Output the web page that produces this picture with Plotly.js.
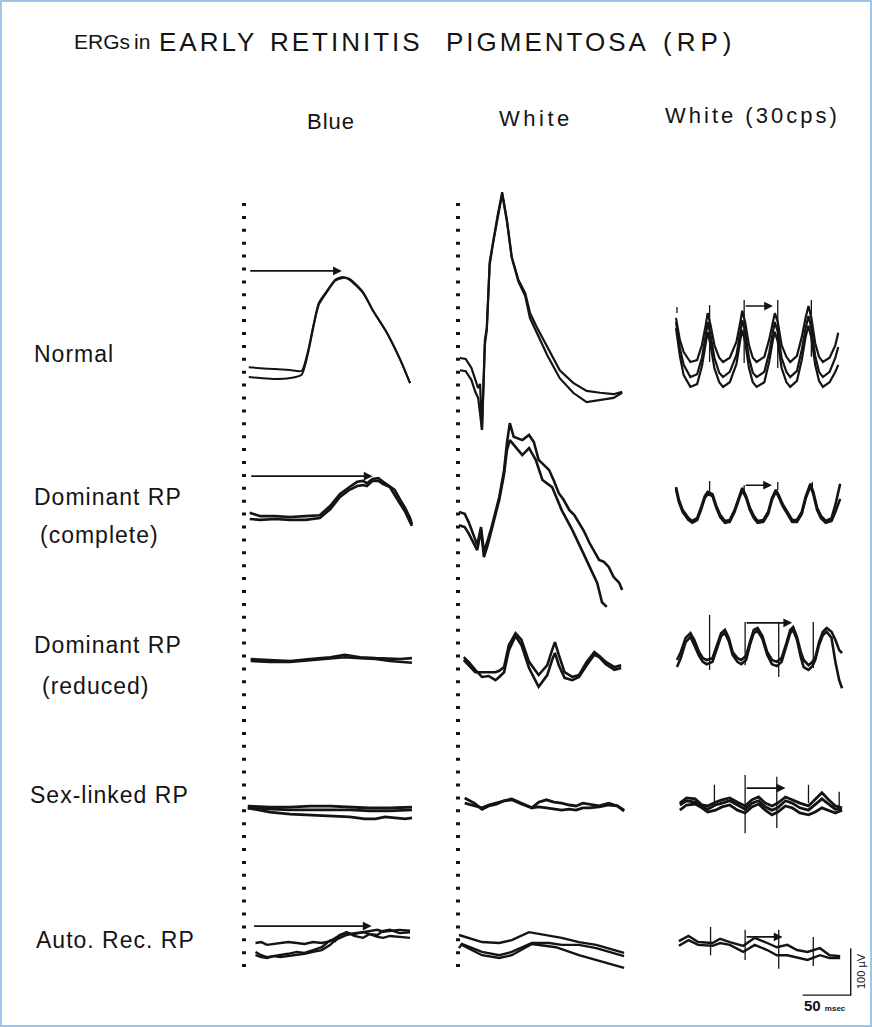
<!DOCTYPE html>
<html><head><meta charset="utf-8">
<script src="https://cdn.plot.ly/plotly-3.0.1.min.js"></script>
<style>html,body{margin:0;padding:0;background:#fff}#chart{width:872px;height:1027px}</style>
</head><body><div id="chart"></div>
<script>
// ---------- DATA (time in ms from stimulus, amplitude in µV) ----------
const columnTitles = ["Blue", "White", "White (30cps)"];
const rowLabels = [["Normal"], ["Dominant RP", "(complete)"], ["Dominant RP", "(reduced)"], ["Sex-linked RP"], ["Auto. Rec. RP"]];
const titleWords = ["ERGs", "in", "EARLY", "RETINITIS", "PIGMENTOSA", "(RP)"];

// Blue stimulus column
const blueNormalT = [6, 18, 33, 49, 61, 68, 73, 79, 88, 96, 104, 111, 125, 135, 150, 164, 174];
const blueNormalA = [8, 6, 4, 2, 0, 45, 94, 145, 172, 194, 200, 194, 166, 130, 81, 23, -26];
const blueNormalB = [-13, -15, -17, -15, -8, 40, 90, 141, 170, 192, 198, 196, 168, 130, 81, 23, -26];

const blueDomcT = [7, 18, 33, 49, 65, 80, 91, 101, 111, 119, 125, 129, 135, 141, 146, 153, 158, 164, 169, 174, 176];
const blueDomcA = [11, 4, 4, 2, 4, 6, 26, 51, 66, 77, 79, 74, 83, 85, 77, 68, 60, 38, 21, 0, -13];
const blueDomcB = [-2, -4, -2, -4, -4, 0, 19, 45, 60, 68, 70, 68, 79, 79, 72, 66, 49, 28, 13, -9, -17];

const blueDomrT = [8, 28, 49, 70, 91, 106, 122, 138, 153, 164, 176];
const blueDomrA = [2, 0, -2, 2, 6, 11, 6, 4, 2, 2, 4];
const blueDomrB = [-2, -4, -4, 0, 4, 6, 4, 2, -2, -4, -6];

const blueSexT = [5, 28, 49, 70, 91, 111, 132, 153, 176];
const blueSexA = [4, 2, 2, 4, 4, 2, 0, 0, 2];
const blueSexB = [0, -2, -4, -4, -4, -4, -6, -6, -4];
const blueSexCT = [5, 28, 49, 70, 91, 111, 127, 138, 148, 158, 169, 176];
const blueSexC = [0, -9, -13, -15, -17, -19, -23, -23, -19, -21, -23, -21];

const blueAutoT = [13, 19, 25, 32, 39, 47, 56, 64, 73, 82, 91, 96, 101, 108, 116, 125, 132, 140, 146, 153, 163, 174];
const blueAutoA = [0, 2, -4, -2, 0, 2, 0, -2, 2, 0, 4, 11, 17, 21, 19, 23, 26, 28, 24, 26, 28, 26];
const blueAutoB = [-19, -26, -30, -28, -26, -23, -19, -21, -15, -9, 6, 4, 17, 23, 15, 11, 19, 13, 11, 15, 13, 11];
const blueAutoC = [-26, -30, -32, -28, -30, -28, -26, -23, -19, -15, -4, 6, 11, 17, 21, 23, 19, 17, 26, 28, 21, 23];

// White stimulus column
const whiteNormalT = [2, 8, 14, 18, 21, 23, 25, 28, 30, 33, 36, 41, 46, 51, 56, 63, 70, 75, 82, 93, 106, 120, 134, 148, 162, 171];
const whiteNormalA = [0, -2, -21, -47, -64, -55, -153, 38, 64, 204, 243, 300, 353, 294, 215, 166, 138, 96, 66, 23, -26, -53, -70, -74, -77, -72];
const whiteNormalB = [-26, -28, -47, -72, -85, -115, -153, 28, 60, 198, 238, 294, 349, 289, 213, 162, 132, 85, 53, 6, -43, -74, -94, -89, -85, -74];

const whiteDomcAT = [1, 7, 11, 16, 20, 24, 27, 31, 35, 43, 48, 51, 54, 58, 67, 74, 79, 84, 90, 95, 100, 105, 110, 116, 121, 126, 131, 137, 142, 147, 152, 157, 162, 168, 171];
const whiteDomcA = [0, -4, -21, -49, -70, -32, -85, -60, -32, 32, 89, 147, 189, 160, 153, 164, 149, 111, 100, 89, 66, 40, 26, 4, -6, -23, -40, -66, -85, -102, -106, -117, -138, -151, -166];
const whiteDomcBT = [1, 7, 11, 16, 20, 24, 27, 31, 35, 43, 48, 51, 54, 60, 67, 74, 81, 88, 98, 108, 119, 129, 137, 145, 150, 155];
const whiteDomcB = [-28, -32, -45, -64, -81, -38, -96, -70, -38, 26, 81, 132, 153, 138, 121, 136, 111, 68, 53, 4, -38, -81, -117, -151, -192, -202];

const whiteDomrT = [6, 11, 18, 25, 32, 39, 43, 48, 53, 60, 66, 74, 84, 93, 98, 101, 105, 111, 119, 126, 134, 142, 147, 154, 163, 170];
const whiteDomrA = [6, -4, -21, -36, -34, -43, -36, -26, 21, 51, 32, -17, -57, -32, 0, 15, -11, -38, -43, -36, -11, 11, 6, -9, -21, -17];
const whiteDomrB = [0, -11, -26, -26, -26, -26, -23, -15, 32, 57, 43, -4, -32, -11, 21, 38, 11, -26, -36, -32, -4, 17, 9, -4, -15, -11];

const whiteSexT = [7, 17, 25, 32, 40, 48, 56, 66, 77, 84, 92, 100, 108, 116, 123, 130, 137, 147, 157, 166, 173];
const whiteSexA = [15, 4, -9, -2, 2, 9, 13, 4, -6, 6, 11, 6, 4, 0, -2, 4, 2, -2, 4, -2, -13];
const whiteSexB = [4, -2, -6, 0, 4, 9, 11, 2, -6, -4, -6, -9, -11, -9, -11, -6, -6, -4, 0, -2, -11];

const whiteAutoAT = [1, 25, 43, 56, 74, 92, 108, 126, 144, 173];
const whiteAutoA = [17, 2, 0, 6, 23, 17, 11, 2, -4, -21];
const whiteAutoBT = [1, 4, 25, 43, 56, 77, 95, 108, 126, 144, 173];
const whiteAutoB = [-11, -2, -19, -26, -19, 0, 0, -4, -4, -11, -28];
const whiteAutoCT = [4, 25, 43, 56, 77, 102, 126, 144, 173];
const whiteAutoC = [-4, -26, -32, -26, -2, -9, -26, -36, -53];

// White flicker (30 cps) column
const cpsNormalT = [0, 4, 8, 15, 22, 27, 31, 33, 36, 40, 45, 49, 56, 63, 67, 69, 72, 76, 80, 84, 92, 97, 101, 103, 106, 110, 115, 119, 126, 131, 135, 138, 141, 145, 149, 153, 160, 166, 169];
const cpsNormalA = [94, 47, 21, 0, 4, 36, 79, 104, 79, 36, 9, 0, 9, 43, 85, 109, 85, 36, 9, 0, 11, 47, 85, 104, 85, 36, 11, 0, 13, 53, 94, 119, 94, 40, 11, 0, 9, 36, 62];
const cpsNormalB = [85, 30, -6, -32, -26, 9, 57, 85, 57, 9, -23, -32, -21, 15, 64, 89, 64, 9, -23, -32, -21, 19, 64, 85, 64, 9, -21, -32, -19, 26, 72, 98, 72, 13, -21, -32, -21, 9, 32];
const cpsNormalC = [72, 13, -28, -53, -47, -9, 40, 64, 36, -13, -43, -53, -43, -4, 47, 68, 43, -13, -43, -53, -43, 0, 47, 64, 43, -13, -43, -53, -40, 4, 53, 77, 51, -6, -40, -53, -43, -21, -6];
const cpsNormalMarkT = [1, 35, 71, 106, 141];
const cpsNormalMarkTop = [117, 121, 132, 132, 132];
const cpsNormalMarkBot = [104, 0, -2, -13, 11];

const cpsDomcT = [0, 3, 7, 13, 17, 22, 26, 30, 33, 38, 42, 46, 51, 56, 61, 66, 69, 73, 77, 81, 85, 91, 96, 100, 104, 107, 111, 116, 121, 126, 131, 135, 140, 143, 147, 151, 156, 162, 166, 171];
const cpsDomcA = [70, 43, 21, 4, -2, 4, 26, 51, 60, 55, 30, 11, -2, 0, 21, 53, 68, 51, 26, 9, -2, 0, 17, 47, 64, 53, 34, 17, 0, 0, 17, 49, 77, 60, 26, 9, -2, 4, 32, 77];
const cpsDomcB = [66, 38, 17, 0, -6, 0, 21, 47, 55, 51, 26, 6, -6, -4, 17, 49, 64, 47, 21, 4, -6, -4, 13, 43, 60, 49, 30, 13, -4, -4, 13, 45, 72, 55, 21, 4, -6, -2, 17, 45];
const cpsDomcMarkT = [35, 71, 106, 142];
const cpsDomcMarkTop = [83, 74, 81, 81];
const cpsDomcMarkBot = [57, 53, 64, 70];

const cpsDomrT = [1, 5, 10, 15, 19, 24, 28, 32, 38, 43, 47, 51, 55, 59, 64, 68, 73, 77, 81, 85, 90, 95, 100, 105, 110, 115, 119, 122, 126, 130, 133, 138, 142, 145, 149, 153, 157, 162, 166, 170, 173];
const cpsDomrA = [0, 17, 47, 57, 43, 17, 4, 0, 4, 32, 57, 64, 47, 17, 4, 0, 9, 38, 64, 68, 51, 17, 0, -4, 4, 36, 64, 70, 49, 17, 0, -11, -4, 4, 38, 60, 68, 60, 43, 21, 15];
const cpsDomrB = [-15, 4, 38, 49, 32, 9, -4, -9, -4, 26, 51, 57, 40, 11, -4, -9, 0, 32, 57, 62, 45, 11, -9, -13, -4, 30, 57, 64, 43, 6, -15, -21, -13, 0, 32, 53, 60, 47, -4, -43, -60];
const cpsDomrMarkT = [35, 72, 107, 143];
const cpsDomrMarkTop = [96, 81, 79, 81];
const cpsDomrMarkBot = [-21, -11, -36, -17];

const cpsSexT = [4, 11, 20, 27, 33, 41, 48, 56, 64, 72, 79, 86, 93, 100, 106, 114, 121, 129, 138, 145, 152, 159, 166, 173];
const cpsSexA = [4, 15, 13, 0, -2, 6, 11, 15, 6, -2, 11, 17, 4, -2, 4, 17, 11, 4, -2, 11, 26, 11, -2, -6];
const cpsSexB = [-11, 0, 2, -6, -15, -11, -4, 0, -11, -17, -4, 2, -11, -21, -15, -2, -6, -17, -21, -15, -6, -11, -17, -11];
const cpsSexC = [0, 9, 6, -4, -9, 0, 4, 9, 0, -9, 4, 9, -4, -11, -6, 9, 4, -6, -11, 2, 13, 2, -9, -9];
const cpsSexMarkT = [40, 72, 105, 138, 170];
const cpsSexMarkTop = [43, 64, 60, 43, 28];
const cpsSexMarkBot = [4, -60, -49, 4, -4];

const cpsAutoT = [3, 13, 23, 38, 46, 56, 70, 82, 95, 105, 116, 126, 137, 150, 160, 171];
const cpsAutoA = [4, 15, 2, 0, 9, 2, -6, 11, 0, -9, -4, -15, -19, -11, -26, -28];
const cpsAutoB = [-6, 6, -4, -6, 0, -4, -19, -4, -15, -26, -26, -30, -36, -26, -32, -32];
const cpsAutoMarkT = [36, 72, 107, 143];
const cpsAutoMarkTop = [34, 28, 28, 13];
const cpsAutoMarkBot = [-26, -36, -55, -49];

// Latency / period arrows: [start ms, end ms, level µV]
const arrowBlueNormal = [6, 103, 213];
const arrowBlueDomc = [7, 135, 89];
const arrowBlueAuto = [10, 134, 36];
const arrowCpsNormal = [71, 101, 119];
const arrowCpsDomc = [71, 100, 74];
const arrowCpsDomr = [72, 121, 79];
const arrowCpsSex = [72, 114, 36];
const arrowCpsAuto = [72, 111, 13];

// Calibration
const calibMs = 50;
const calibUv = 100;

// ---------- LAYOUT GEOMETRY ----------
const W = 872, H = 1027;
const PX_PER_MS = 0.96, PX_PER_UV = 0.47;
const colGeom = {blue: {x0: 243, left: 236, right: 428}, white: {x0: 458, left: 448, right: 640}, cps: {x0: 676, left: 664, right: 868}};
const rowGeom = {normal: {top: 185, bottom: 440}, domc: {top: 410, bottom: 612}, domr: {top: 600, bottom: 705}, sex: {top: 760, bottom: 845}, auto: {top: 900, bottom: 1010}};
const baseY = {
  blue: {normal: 371, domc: 518, domr: 660, sex: 808, auto: 943},
  white: {normal: 358, domc: 512, domr: 660, sex: 805, auto: 943},
  cps: {normal: 362, domc: 520, domr: 660, sex: 805, auto: 943}
};
const colKeys = ["blue", "white", "cps"];
const rowKeys = ["normal", "domc", "domr", "sex", "auto"];

const panelSeries = {
  "blue.normal": [[blueNormalT, blueNormalA], [blueNormalT, blueNormalB]],
  "blue.domc": [[blueDomcT, blueDomcA], [blueDomcT, blueDomcB]],
  "blue.domr": [[blueDomrT, blueDomrA], [blueDomrT, blueDomrB]],
  "blue.sex": [[blueSexT, blueSexA], [blueSexT, blueSexB], [blueSexCT, blueSexC]],
  "blue.auto": [[blueAutoT, blueAutoA], [blueAutoT, blueAutoB], [blueAutoT, blueAutoC]],
  "white.normal": [[whiteNormalT, whiteNormalA], [whiteNormalT, whiteNormalB]],
  "white.domc": [[whiteDomcAT, whiteDomcA], [whiteDomcBT, whiteDomcB]],
  "white.domr": [[whiteDomrT, whiteDomrA], [whiteDomrT, whiteDomrB]],
  "white.sex": [[whiteSexT, whiteSexA], [whiteSexT, whiteSexB]],
  "white.auto": [[whiteAutoAT, whiteAutoA], [whiteAutoBT, whiteAutoB], [whiteAutoCT, whiteAutoC]],
  "cps.normal": [[cpsNormalT, cpsNormalA], [cpsNormalT, cpsNormalB], [cpsNormalT, cpsNormalC]],
  "cps.domc": [[cpsDomcT, cpsDomcA], [cpsDomcT, cpsDomcB]],
  "cps.domr": [[cpsDomrT, cpsDomrA], [cpsDomrT, cpsDomrB]],
  "cps.sex": [[cpsSexT, cpsSexA], [cpsSexT, cpsSexB], [cpsSexT, cpsSexC]],
  "cps.auto": [[cpsAutoT, cpsAutoA], [cpsAutoT, cpsAutoB]]
};
const panelMarks = {
  "cps.normal": [cpsNormalMarkT, cpsNormalMarkTop, cpsNormalMarkBot],
  "cps.domc": [cpsDomcMarkT, cpsDomcMarkTop, cpsDomcMarkBot],
  "cps.domr": [cpsDomrMarkT, cpsDomrMarkTop, cpsDomrMarkBot],
  "cps.sex": [cpsSexMarkT, cpsSexMarkTop, cpsSexMarkBot],
  "cps.auto": [cpsAutoMarkT, cpsAutoMarkTop, cpsAutoMarkBot]
};
const panelArrows = {
  "blue.normal": arrowBlueNormal, "blue.domc": arrowBlueDomc, "blue.auto": arrowBlueAuto,
  "cps.normal": arrowCpsNormal, "cps.domc": arrowCpsDomc, "cps.domr": arrowCpsDomr,
  "cps.sex": arrowCpsSex, "cps.auto": arrowCpsAuto
};
const lineWidthByRow = {normal: 2.2, domc: 2.6, domr: 2.6, sex: 2.8, auto: 2.4};

const INK = "#141414";
const FONT = "Liberation Sans, Arial, sans-serif";
const px = x => x / W;
const py = y => 1 - y / H;

const layout = {
  width: W, height: H,
  margin: {l: 0, r: 0, t: 0, b: 0},
  paper_bgcolor: "#ffffff", plot_bgcolor: "rgba(0,0,0,0)",
  showlegend: false,
  annotations: [], shapes: []
};
const data = [];

let n = 0;
rowKeys.forEach(rk => {
  colKeys.forEach(ck => {
    n += 1;
    const key = ck + "." + rk;
    const c = colGeom[ck], r = rowGeom[rk], y0 = baseY[ck][rk];
    const sfx = n === 1 ? "" : String(n);
    layout["xaxis" + sfx] = {
      domain: [px(c.left), px(c.right)],
      range: [(c.left - c.x0) / PX_PER_MS, (c.right - c.x0) / PX_PER_MS],
      visible: false, fixedrange: true, anchor: "y" + sfx
    };
    layout["yaxis" + sfx] = {
      domain: [py(r.bottom), py(r.top)],
      range: [(y0 - r.bottom) / PX_PER_UV, (y0 - r.top) / PX_PER_UV],
      visible: false, fixedrange: true, anchor: "x" + sfx
    };
    const xa = "x" + sfx, ya = "y" + sfx;
    const lw = (ck === "blue" && rk === "normal") ? 2 : lineWidthByRow[rk];
    (panelSeries[key] || []).forEach(([t, v]) => {
      data.push({
        x: t, y: v, xaxis: xa, yaxis: ya, type: "scatter", mode: "lines",
        line: {color: INK, width: lw, shape: ck === "blue" && rk === "normal" ? "spline" : "linear", smoothing: 0.6},
        hoverinfo: "skip"
      });
    });
    const mk = panelMarks[key];
    if (mk) {
      const xs = [], ys = [];
      mk[0].forEach((t, i) => { xs.push(t, t, null); ys.push(mk[1][i], mk[2][i], null); });
      data.push({x: xs, y: ys, xaxis: xa, yaxis: ya, type: "scatter", mode: "lines",
        line: {color: INK, width: 1.3}, hoverinfo: "skip"});
    }
    const ar = panelArrows[key];
    if (ar) {
      layout.annotations.push({
        xref: xa, yref: ya, axref: xa, ayref: ya,
        x: ar[1], y: ar[2], ax: ar[0], ay: ar[2], text: "",
        showarrow: true, arrowhead: 2, arrowsize: 1.1, arrowwidth: 1.6, arrowcolor: INK,
        standoff: 0, startstandoff: 0
      });
    }
    if (key === "cps.auto") {
      const tEnd = 182, vBase = -111;
      data.push({x: [tEnd - calibMs, tEnd, tEnd], y: [vBase, vBase, vBase + calibUv],
        xaxis: xa, yaxis: ya, type: "scatter", mode: "lines",
        line: {color: INK, width: 1.4}, hoverinfo: "skip"});
    }
  });
});

// dotted stimulus lines
[[244, 203, 975], [458, 203, 975]].forEach(([x, y1, y2]) => {
  layout.shapes.push({type: "line", xref: "paper", yref: "paper",
    x0: px(x), x1: px(x), y0: py(y1), y1: py(y2),
    line: {color: INK, width: 4, dash: "3px,9.9px"}});
});
// frame
layout.shapes.push({type: "rect", xref: "paper", yref: "paper", x0: 0.001, x1: 0.999, y0: 0.001, y1: 0.999,
  line: {color: "#9dc3e6", width: 2}});

function addText(text, x, y, size, anchor, spacing, extra) {
  const t = spacing ? "<span style='letter-spacing:" + spacing + "px'>" + text + "</span>" : text;
  layout.annotations.push(Object.assign({
    xref: "paper", yref: "paper", x: px(x), y: py(y), text: t, showarrow: false,
    xanchor: anchor || "left", yanchor: "middle",
    font: {family: FONT, size: size, color: INK}
  }, extra || {}));
}

// title words
const titleX = [72, 132, 157, 268, 444, 661];
const titleSize = [21, 21, 26, 26, 26, 26];
const titleSpacing = [0, 0, 3, 3, 3, 5];
titleWords.forEach((w, i) => addText(w, titleX[i], 42, titleSize[i], "left", titleSpacing[i]));
// column titles
const colTitleX = [305, 497, 663];
const colTitleY = [121, 118, 116];
const colTitleSpacing = [1, 3.5, 3];
columnTitles.forEach((t, i) => addText(t, colTitleX[i], colTitleY[i], 22, "left", colTitleSpacing[i]));
// row labels
const rowLabelX = [[32], [32, 38], [32, 40], [28], [34]];
const rowLabelY = [[354], [497, 535], [645, 686], [795], [940]];
rowLabels.forEach((lines, i) => lines.forEach((s, j) => addText(s, rowLabelX[i][j], rowLabelY[i][j], 23, "left", 1)));
// calibration labels
addText("<b>50</b> <span style='font-size:8px'><b>msec</b></span>", 802, 1005, 15, "left", 0);
addText("100 µV", 861, 971, 11, "center", 0, {textangle: -90});

Plotly.newPlot("chart", data, layout, {displayModeBar: false, staticPlot: true});
</script>
</body></html>
